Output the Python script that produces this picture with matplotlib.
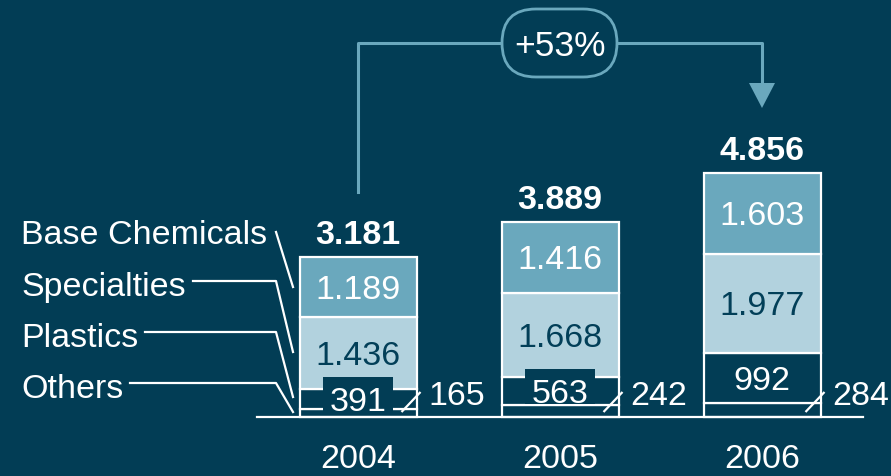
import matplotlib
matplotlib.use("Agg")
import matplotlib.pyplot as plt
from matplotlib.patches import FancyBboxPatch, Polygon, Rectangle
from matplotlib.transforms import IdentityTransform

years = ["2004", "2005", "2006"]
others = [165, 242, 284]
plastics = [391, 563, 992]
specialties = [1436, 1668, 1977]
base_chem = [1189, 1416, 1603]
series_names = ["Base Chemicals", "Specialties", "Plastics", "Others"]
growth_label = "+53%"

BG = "#023d55"
BASE_C = "#6aa8bd"
SPEC_C = "#b2d2de"
DARK_TXT = "#023f58"
WHITE = "#ffffff"

W, H = 891, 476
fig = plt.figure(figsize=(W / 100, H / 100), dpi=100)
fig.patch.set_facecolor(BG)
ax = fig.add_axes([0, 0, 1, 1])
ax.set_facecolor(BG)
ax.axis("off")

# pixel-to-data mapping (layout only)
X0, XS = 358, 202.0
Y0, YS = 417, 0.0502
ax.set_xlim((0 - X0) / XS, (W - X0) / XS)
ax.set_ylim((Y0 - H) / YS, (Y0 - 0) / YS)

def P(px, py):
    return ((px - X0) / XS, (Y0 - py) / YS)

def fmt(v):
    return f"{v:,}".replace(",", ".")

FONT = "Liberation Sans"
FS = 24.5
TDY = 3.5 / YS  # text vertical nudge
LW = 1.6
x = list(range(len(years)))
bw = 117 / XS

ax.bar(x, others, bw, bottom=0, color=BG, edgecolor=WHITE, linewidth=LW, zorder=2)
b1 = list(others)
ax.bar(x, plastics, bw, bottom=b1, color=BG, edgecolor=WHITE, linewidth=LW, zorder=2)
b2 = [o + p for o, p in zip(others, plastics)]
ax.bar(x, specialties, bw, bottom=b2, color=SPEC_C, edgecolor=WHITE, linewidth=LW, zorder=2)
b3 = [a + s for a, s in zip(b2, specialties)]
ax.bar(x, base_chem, bw, bottom=b3, color=BASE_C, edgecolor=WHITE, linewidth=LW, zorder=2)
totals = [a + b for a, b in zip(b3, base_chem)]

for i in x:
    pc = others[i] + plastics[i] / 2
    # dark box behind plastics label
    ax.add_patch(Rectangle((i - 35 / XS, pc - 13 / YS), 70 / XS, 35 / YS,
                           fc=BG, ec="none", zorder=3))
    ax.text(i, pc - TDY, fmt(plastics[i]), ha="center", va="center",
            fontsize=FS, color=WHITE, family=FONT, zorder=4)
    ax.text(i, b2[i] + specialties[i] / 2 - TDY, fmt(specialties[i]), ha="center", va="center",
            fontsize=FS, color=DARK_TXT, family=FONT, zorder=4)
    ax.text(i, b3[i] + base_chem[i] / 2 - TDY, fmt(base_chem[i]), ha="center", va="center",
            fontsize=FS, color=WHITE, family=FONT, zorder=4)
    ax.text(i, totals[i] + 500 - TDY, fmt(totals[i]), ha="center", va="center",
            fontsize=24.5, color=WHITE, family=FONT, fontweight="bold", zorder=4)
    ax.text(i, P(0, 459)[1], years[i], ha="center", va="center",
            fontsize=FS, color=WHITE, family=FONT, zorder=4)
    # others label outside with slash
    right = i + bw / 2
    ax.plot([right - 15 / XS, right + 4 / XS], [P(0, 412)[1], P(0, 392)[1]],
            color=WHITE, lw=LW, zorder=5, solid_capstyle="butt")
    ax.text(right + 12 / XS, P(0, 393)[1] - TDY, fmt(others[i]), ha="left", va="center",
            fontsize=FS, color=WHITE, family=FONT, zorder=4)

# baseline
ax.plot([P(257, 0)[0], P(863, 0)[0]], [0, 0], color=WHITE, lw=LW, zorder=5)

# legend leaders
legend_y = [232, 284, 335, 386]
leader_ends = [287, 352, 397, 412]
text_right = [None, 193, 145, 130]
for name, ly, le, tr in zip(series_names, legend_y, leader_ends, text_right):
    ax.text(*P(21, ly + 3.5), name, ha="left", va="center", fontsize=FS, color=WHITE, family=FONT)
    if tr is None:
        pts = [P(276, 232), P(293, le)]
    else:
        pts = [P(tr, ly - 3), P(276, ly - 3), P(293, le)]
    ax.plot([p[0] for p in pts], [p[1] for p in pts], color=WHITE, lw=LW)

# growth bracket
bx = [P(358, 192), P(358, 43), P(762, 43), P(762, 85)]
ax.plot([p[0] for p in bx], [p[1] for p in bx], color=BASE_C, lw=2.2, zorder=3)
ax.add_patch(Polygon([P(749, 83), P(775, 83), P(762, 108)], closed=True,
                     fc=BASE_C, ec="none", zorder=3))

# pill
pl, pr, pt, pb = 502, 617, 9, 77
r = (pb - pt) / 2
pill = FancyBboxPatch((pl + r, H - pb + r), (pr - pl) - 2 * r, 0,
                      boxstyle=f"round,pad={r},rounding_size={r}",
                      transform=IdentityTransform(), fc=BG, ec=BASE_C, lw=2.0, zorder=6)
ax.add_patch(pill)
ax.text(*P(560, 47), growth_label, ha="center", va="center", fontsize=25.5,
        color=WHITE, family=FONT, zorder=7)

fig.savefig("out.png", dpi=100, facecolor=BG)
